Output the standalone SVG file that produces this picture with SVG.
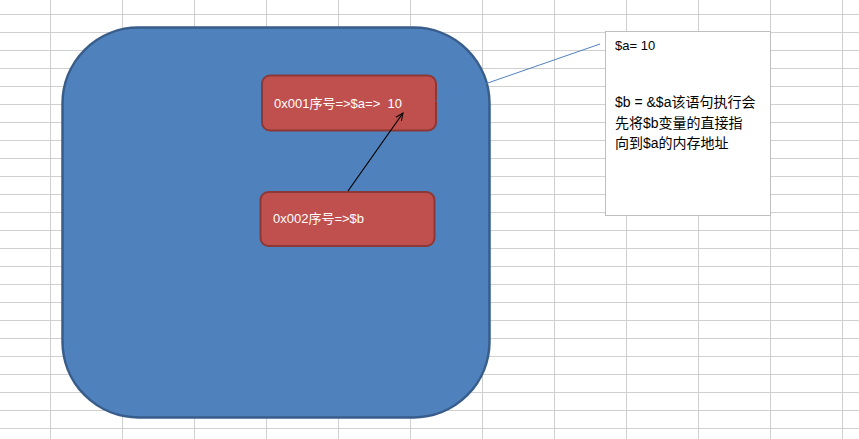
<svg xmlns="http://www.w3.org/2000/svg" width="859" height="439" viewBox="0 0 859 439">
<defs>
<style>
.grid line{stroke:#D0D0D0;stroke-width:1}
.t{font-family:"Liberation Sans","Noto Sans CJK SC",sans-serif;font-size:13px;white-space:pre}
.c{font-size:14px}
.w{fill:#FFFFFF}
.k{fill:#000000}
</style>
<marker id="ah" viewBox="0 0 10 10" refX="9" refY="5" markerWidth="7" markerHeight="7" orient="auto">
<path d="M0,1 L9,5 L0,9" fill="none" stroke="#000" stroke-width="1.2"/>
</marker>
</defs>
<rect width="859" height="439" fill="#FFFFFF"/>
<g class="grid">
<line x1="50.5" y1="0" x2="50.5" y2="439"/><line x1="122.5" y1="0" x2="122.5" y2="439"/><line x1="194.5" y1="0" x2="194.5" y2="439"/><line x1="266.5" y1="0" x2="266.5" y2="439"/><line x1="338.5" y1="0" x2="338.5" y2="439"/><line x1="410.5" y1="0" x2="410.5" y2="439"/><line x1="482.5" y1="0" x2="482.5" y2="439"/><line x1="554.5" y1="0" x2="554.5" y2="439"/><line x1="626.5" y1="0" x2="626.5" y2="439"/><line x1="698.5" y1="0" x2="698.5" y2="439"/><line x1="770.5" y1="0" x2="770.5" y2="439"/><line x1="842.5" y1="0" x2="842.5" y2="439"/>
<line x1="0" y1="14.5" x2="859" y2="14.5"/><line x1="0" y1="32.5" x2="859" y2="32.5"/><line x1="0" y1="50.5" x2="859" y2="50.5"/><line x1="0" y1="68.5" x2="859" y2="68.5"/><line x1="0" y1="86.5" x2="859" y2="86.5"/><line x1="0" y1="104.5" x2="859" y2="104.5"/><line x1="0" y1="122.5" x2="859" y2="122.5"/><line x1="0" y1="140.5" x2="859" y2="140.5"/><line x1="0" y1="158.5" x2="859" y2="158.5"/><line x1="0" y1="176.5" x2="859" y2="176.5"/><line x1="0" y1="194.5" x2="859" y2="194.5"/><line x1="0" y1="212.5" x2="859" y2="212.5"/><line x1="0" y1="230.5" x2="859" y2="230.5"/><line x1="0" y1="248.5" x2="859" y2="248.5"/><line x1="0" y1="266.5" x2="859" y2="266.5"/><line x1="0" y1="284.5" x2="859" y2="284.5"/><line x1="0" y1="302.5" x2="859" y2="302.5"/><line x1="0" y1="320.5" x2="859" y2="320.5"/><line x1="0" y1="338.5" x2="859" y2="338.5"/><line x1="0" y1="356.5" x2="859" y2="356.5"/><line x1="0" y1="374.5" x2="859" y2="374.5"/><line x1="0" y1="392.5" x2="859" y2="392.5"/><line x1="0" y1="410.5" x2="859" y2="410.5"/><line x1="0" y1="428.5" x2="859" y2="428.5"/>
</g>
<g id="memory">
<rect x="62.5" y="27.5" width="427" height="390" rx="76" ry="76" fill="#4F81BD" stroke="#385D8A" stroke-width="2.5"/>
</g>
<g id="callout">
<rect x="605.5" y="31.5" width="165" height="184" fill="#FFFFFF" stroke="#BFBFBF" stroke-width="1"/>
<text class="t k" x="615" y="50">$a= 10</text>
<text class="t c k" x="615" y="107">$b = &amp;$a该语句执行会</text>
<text class="t c k" x="615" y="128">先将$b变量的直接指</text>
<text class="t c k" x="615" y="148">向到$a的内存地址</text>
</g>
<g id="node1">
<rect x="262" y="75.5" width="174" height="55" rx="8" ry="8" fill="#C0504D" stroke="#8C3836" stroke-width="2"/>
<text class="t w" x="274" y="108" xml:space="preserve">0x001序号=&gt;$a=&gt;  10</text>
</g>
<g id="node2">
<rect x="260.5" y="192" width="174" height="54" rx="8" ry="8" fill="#C0504D" stroke="#8C3836" stroke-width="2"/>
<text class="t w" x="273" y="223">0x002序号=&gt;$b</text>
</g>
<g id="connectors">
<line x1="436" y1="101" x2="600" y2="44" stroke="#4F81BD" stroke-width="1"/>
<line x1="348" y1="191" x2="403" y2="113" stroke="#000" stroke-width="1.2" marker-end="url(#ah)"/>
</g>
</svg>
